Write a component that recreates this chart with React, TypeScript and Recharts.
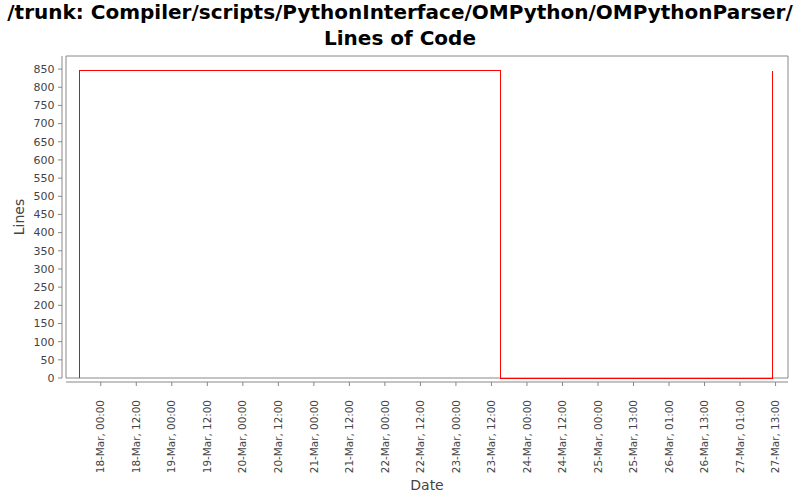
import { LineChart, Line, XAxis, YAxis, ReferenceArea, Label } from 'recharts'

// hours counted from 18-Mar 00:00
const commitHours = [-7.1, -7.1, 135.2, 227.1]
const lineCounts = [0, 845, 0, 845]

const xTicks = [0, 12, 24, 36, 48, 60, 72, 84, 96, 108, 120, 132, 144, 156, 168, 180, 192, 204, 216, 228]
const xTickLabels = [
  '18-Mar, 00:00', '18-Mar, 12:00', '19-Mar, 00:00', '19-Mar, 12:00',
  '20-Mar, 00:00', '20-Mar, 12:00', '21-Mar, 00:00', '21-Mar, 12:00',
  '22-Mar, 00:00', '22-Mar, 12:00', '23-Mar, 00:00', '23-Mar, 12:00',
  '24-Mar, 00:00', '24-Mar, 12:00', '25-Mar, 00:00', '25-Mar, 13:00',
  '26-Mar, 01:00', '26-Mar, 13:00', '27-Mar, 01:00', '27-Mar, 13:00',
]
const yTicks = [0, 50, 100, 150, 200, 250, 300, 350, 400, 450, 500, 550, 600, 650, 700, 750, 800, 850]

const TITLE_LINES = ['/trunk: Compiler/scripts/PythonInterface/OMPython/OMPythonParser/', 'Lines of Code']

const X_DOMAIN: [number, number] = [-11.75, 232.2]
const Y_MAX = 886

const FONT = '"DejaVu Sans", sans-serif'
const AXIS = '#888888'
const TEXT = '#444444'

const data = commitHours.map((h, i) => ({ h, lines: lineCounts[i] }))

function XTick({ x, y, index }: any) {
  return (
    <text
      transform={`translate(${x},${y + 16}) rotate(-90)`}
      textAnchor="end"
      dy="0.35em"
      fontSize={10.4}
      fontFamily={FONT}
      fill={TEXT}
    >
      {xTickLabels[index]}
    </text>
  )
}

function YTick({ x, y, payload }: any) {
  return (
    <text x={x - 5.5} y={y} dy="0.35em" textAnchor="end" fontSize={11} fontFamily={FONT} fill={TEXT}>
      {payload.value}
    </text>
  )
}

export default function App() {
  return (
    <div style={{ position: 'absolute', left: 0, top: 0, width: 800, height: 500, background: '#fff', fontFamily: FONT }}>
      {TITLE_LINES.map((t, i) => (
        <div
          key={t}
          style={{
            position: 'absolute', left: 0, top: 1 + i * 26, width: 800, textAlign: 'center',
            fontWeight: 'bold', fontSize: 20, lineHeight: '22px', color: '#000', whiteSpace: 'nowrap',
          }}
        >
          {t}
        </div>
      ))}
      <LineChart width={800} height={500} data={data} margin={{ top: 56, right: 12, bottom: 0, left: 0 }}>
        <XAxis
          dataKey="h"
          type="number"
          domain={X_DOMAIN}
          ticks={xTicks}
          interval={0}
          height={122}
          tickSize={4}
          tickMargin={2}
          axisLine={{ stroke: AXIS, transform: 'translate(0,4)' }}
          tickLine={{ stroke: AXIS, transform: 'translate(0,4)' }}
          tick={<XTick />}
        >
          <Label
            content={({ viewBox }: any) => (
              <text x={viewBox.x + viewBox.width / 2} y={490} textAnchor="middle" fontSize={14} fontFamily={FONT} fill={TEXT}>
                Date
              </text>
            )}
          />
        </XAxis>
        <YAxis
          type="number"
          domain={[0, Y_MAX]}
          ticks={yTicks}
          interval={0}
          width={66}
          tickSize={4}
          tickMargin={2}
          axisLine={{ stroke: AXIS, transform: 'translate(-4,0)' }}
          tickLine={{ stroke: AXIS, transform: 'translate(-4,0)' }}
          tick={<YTick />}
        >
          <Label
            content={({ viewBox }: any) => (
              <text
                transform={`translate(${24},${viewBox.y + viewBox.height / 2}) rotate(-90)`}
                textAnchor="middle"
                fontSize={14}
                fontFamily={FONT}
                fill={TEXT}
              >
                Lines
              </text>
            )}
          />
        </YAxis>
        <ReferenceArea y1={0} y2={Y_MAX} fill="none" stroke={AXIS} ifOverflow="visible" />
        <Line
          type="stepAfter"
          dataKey="lines"
          stroke="#ff0000"
          strokeWidth={1}
          shapeRendering="crispEdges"
          dot={false}
          isAnimationActive={false}
        />
      </LineChart>
    </div>
  )
}
